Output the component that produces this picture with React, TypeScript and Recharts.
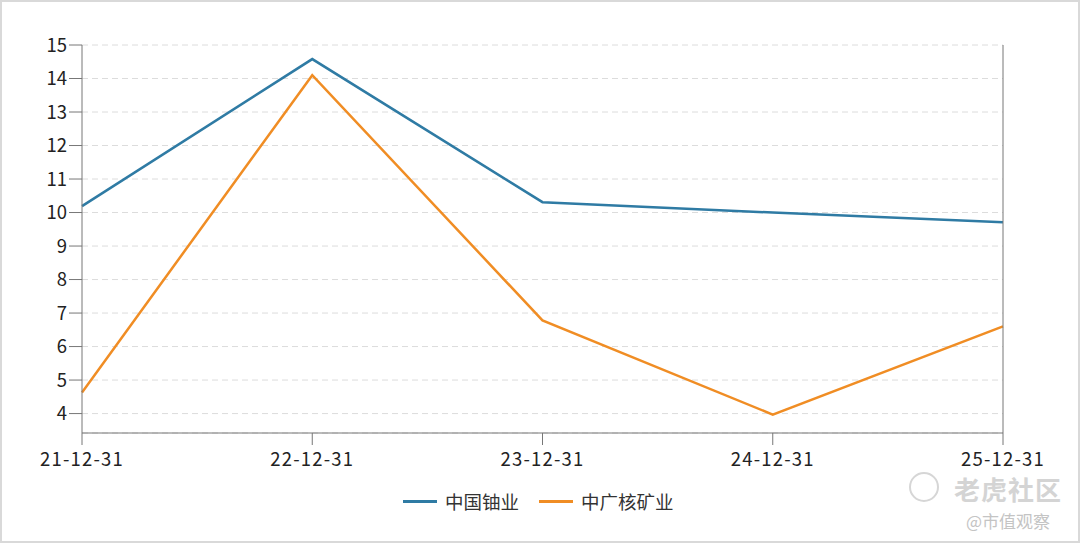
import React from 'react';
import { LineChart, Line, XAxis, YAxis, CartesianGrid } from 'recharts';

const dates = ['21-12-31', '22-12-31', '23-12-31', '24-12-31', '25-12-31'];
const uranium = [10.19, 14.58, 10.31, 10.0, 9.71];
const cgnMining = [4.63, 14.1, 6.78, 3.97, 6.6];
const yTicks = [4, 5, 6, 7, 8, 9, 10, 11, 12, 13, 14, 15];

const series = [
  { key: 'uranium', name: '中国铀业', color: '#2f7ba4' },
  { key: 'cgn', name: '中广核矿业', color: '#f08d24' },
];

const data = dates.map((d, i) => ({ date: d, uranium: uranium[i], cgn: cgnMining[i] }));

const FONT = '"Microsoft YaHei", "Noto Sans CJK SC", "Noto Sans", sans-serif';
const tickStyle = { fontSize: 18.5, fill: '#222', fontFamily: FONT };
const xTickStyle = { ...tickStyle, letterSpacing: 1.2 };

export default function App() {
  return (
    <div
      style={{
        position: 'fixed',
        left: 0,
        top: 0,
        width: 1080,
        height: 543,
        boxSizing: 'border-box',
        border: '2px solid #d9d9d9',
        background: '#fff',
        fontFamily: FONT,
        overflow: 'hidden',
      }}
    >
      <div style={{ position: 'absolute', left: -2, top: -2 }}>
        <LineChart width={1080} height={543} data={data} margin={{ top: 45, right: 0, bottom: 80, left: 0 }}>
          <CartesianGrid vertical={false} stroke="#dcdcdc" strokeDasharray="6 4" yAxisId="left" />
          <XAxis
            dataKey="date"
            stroke="#777"
            tick={xTickStyle}
            tickSize={12}
            tickMargin={8}
            height={30}
            interval={0}
            padding={{ left: 0, right: 0 }}
          />
          <YAxis
            yAxisId="left"
            orientation="left"
            domain={[3.42, 15]}
            ticks={yTicks}
            stroke="#777"
            tick={tickStyle}
            tickSize={13}
            tickMargin={2}
            width={82}
            interval={0}
          />
          <YAxis
            yAxisId="right"
            orientation="right"
            domain={[3.42, 15]}
            ticks={yTicks}
            stroke="#777"
            tick={tickStyle}
            tickSize={12}
            tickMargin={1}
            width={77}
            interval={0}
          />
          {series.map((s) => (
            <Line
              key={s.key}
              yAxisId="left"
              type="linear"
              dataKey={s.key}
              name={s.name}
              stroke={s.color}
              strokeWidth={2.5}
              dot={false}
              activeDot={false}
              isAnimationActive={false}
            />
          ))}
        </LineChart>
      </div>

      {/* legend */}
      <div
        style={{
          position: 'absolute',
          left: 401,
          top: 486,
          display: 'flex',
          alignItems: 'center',
          fontSize: 18.5,
          color: '#333',
          lineHeight: '26px',
        }}
      >
        {series.map((s, i) => (
          <div key={s.key} style={{ display: 'flex', alignItems: 'center', marginRight: i === 0 ? 20 : 0 }}>
            <div style={{ width: 34, height: 3, background: s.color, marginRight: 8 }} />
            <span>{s.name}</span>
          </div>
        ))}
      </div>

      {/* watermark */}
      <div
        style={{
          position: 'absolute',
          left: 907,
          top: 470,
          width: 26,
          height: 26,
          borderRadius: '50%',
          border: '2px solid #d6d6d6',
        }}
      />
      <div
        style={{
          position: 'absolute',
          left: 952,
          top: 474,
          fontSize: 26,
          lineHeight: '26px',
          fontWeight: 'bold',
          color: '#d4d4d4',
          letterSpacing: 1,
        }}
      >
        老虎社区
      </div>
      <div style={{ position: 'absolute', left: 964, top: 506, fontSize: 17, color: '#c4c4c4' }}>
        @市值观察
      </div>
    </div>
  );
}
